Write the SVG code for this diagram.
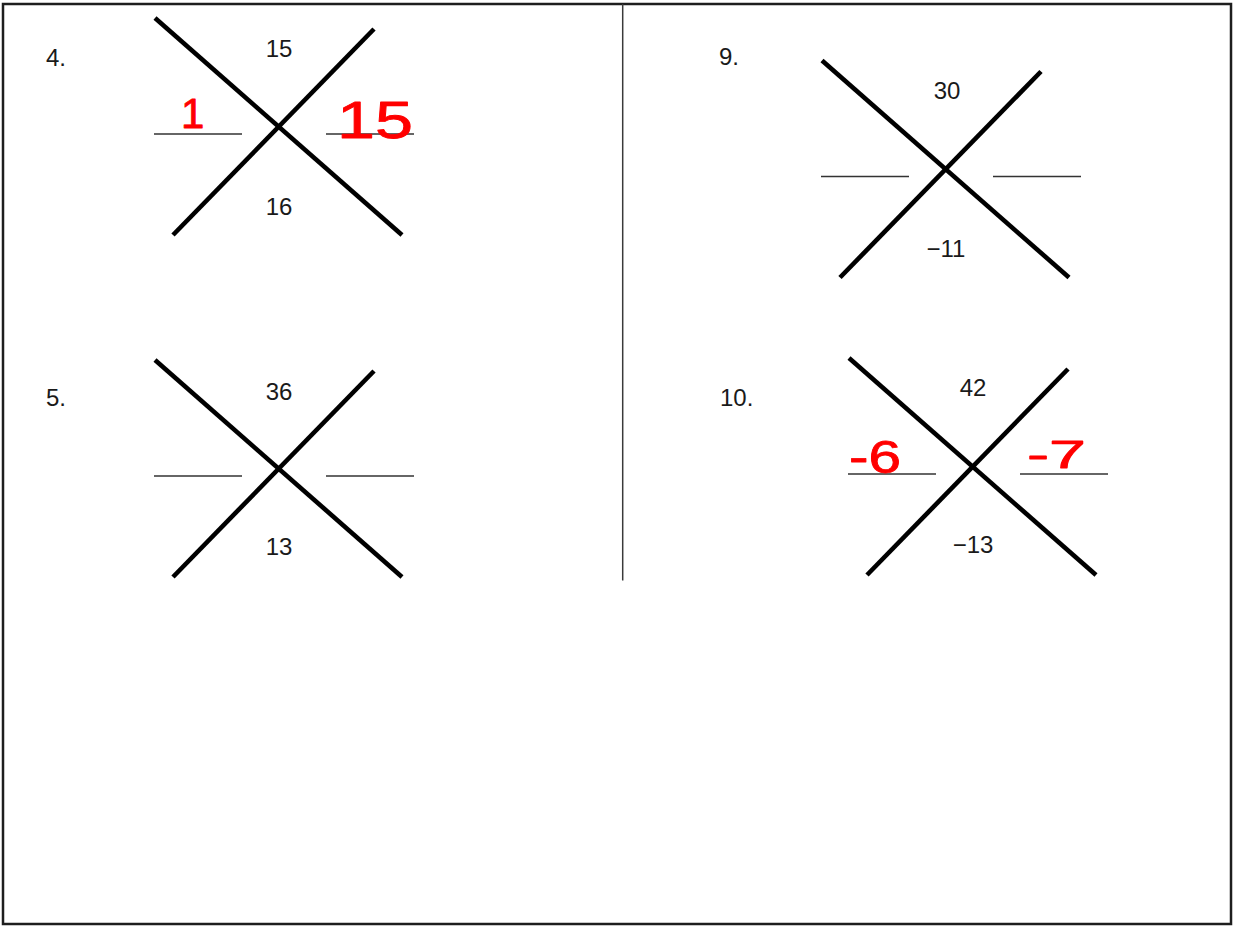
<svg xmlns="http://www.w3.org/2000/svg" width="1235" height="926" viewBox="0 0 1235 926">
  <style>
    .frame { fill: none; stroke: #1e1e1e; stroke-width: 2.5; }
    .divider { stroke: #3a3a3a; stroke-width: 1.5; }
    .x { stroke: #000; stroke-width: 4.6; stroke-linecap: butt; }
    .blank { stroke: #333; stroke-width: 1.4; }
    .lbl { font-family: "Liberation Sans", Arial, sans-serif; font-size: 24px; fill: #1a1a1a; text-anchor: middle; }
    .num { font-family: "Liberation Sans", Arial, sans-serif; font-size: 24px; fill: #1a1a1a; }
    .hand { font-family: "Liberation Sans", Arial, sans-serif; fill: #ff0000; stroke: #ff0000; stroke-width: 0.8; stroke-linejoin: round; }
  </style>
  <defs>
    <g id="xshape">
      <line class="x" x1="155" y1="18" x2="402" y2="235"/>
      <line class="x" x1="374" y1="29" x2="173" y2="235"/>
      <line class="blank" x1="154" y1="134" x2="242" y2="134"/>
      <line class="blank" x1="326" y1="134" x2="414" y2="134"/>
    </g>
  </defs>
  <rect width="1235" height="926" fill="#ffffff"/>
  <rect class="frame" x="3" y="4" width="1228" height="920"/>
  <line class="divider" x1="622.7" y1="4" x2="622.7" y2="580.5"/>

  <g id="problem-4">
    <text class="num" x="46" y="66">4.</text>
    <use href="#xshape"/>
    <text class="lbl" x="279" y="56.5">15</text>
    <text class="lbl" x="279" y="215">16</text>
  </g>

  <g id="problem-5">
    <text class="num" x="46" y="406">5.</text>
    <g transform="translate(0,342)">
      <use href="#xshape"/>
      <text class="lbl" x="279" y="57.5">36</text>
      <text class="lbl" x="279" y="213">13</text>
    </g>
  </g>

  <g id="problem-9">
    <text class="num" x="719" y="65">9.</text>
    <g transform="translate(667,42.5)">
      <use href="#xshape"/>
      <text class="lbl" x="280" y="56.5">30</text>
      <text class="lbl" x="279" y="214.5">−11</text>
    </g>
  </g>

  <g id="problem-10">
    <text class="num" x="720" y="406">10.</text>
    <g transform="translate(694,340)">
      <use href="#xshape"/>
      <text class="lbl" x="279" y="56">42</text>
      <text class="lbl" x="279" y="213">−13</text>
    </g>
  </g>

  <g id="answers">
    <text class="hand" x="181" y="128" font-size="42">1</text>
    <text class="hand" x="337" y="138" font-size="52" textLength="76" lengthAdjust="spacingAndGlyphs">15</text>
    <text class="hand" x="849" y="473" font-size="46" textLength="52" lengthAdjust="spacingAndGlyphs">-6</text>
    <text class="hand" x="1027" y="468" font-size="38" textLength="59" lengthAdjust="spacingAndGlyphs">-7</text>
  </g>
</svg>
